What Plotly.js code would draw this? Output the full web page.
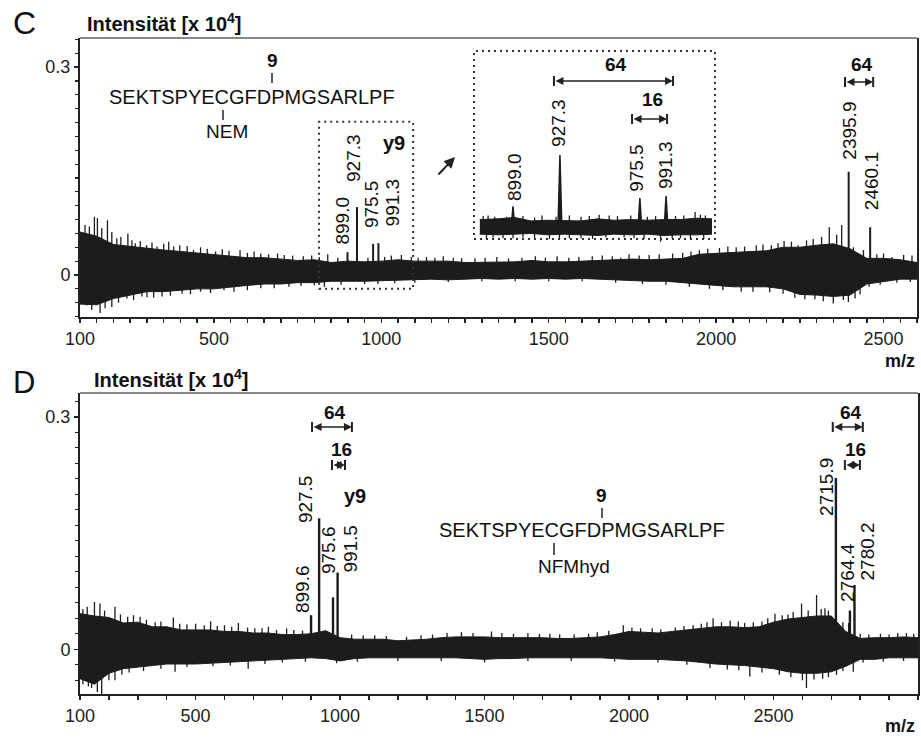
<!DOCTYPE html>
<html><head><meta charset="utf-8">
<script src="https://cdn.plot.ly/plotly-3.0.1.min.js"></script>
<style>html,body{margin:0;padding:0;background:#fff;}#chart{width:921px;height:738px;}</style>
</head><body><div id="chart"></div>
<script>
// ================= DATA =================
// Panel C: noise envelope (m/z, upper, lower) in Intensität [x 10^4]
const envMzC = [100,150,200,250,300,350,400,450,500,550,600,650,700,750,800,850,900,950,1000,1050,1100,1150,1200,1250,1300,1350,1400,1450,1500,1550,1600,1650,1700,1750,1800,1850,1900,1950,2000,2050,2100,2150,2200,2250,2300,2350,2400,2450,2500,2550,2600];
const envUpC = [0.062,0.056,0.044,0.041,0.039,0.036,0.034,0.032,0.029,0.027,0.025,0.025,0.023,0.021,0.022,0.018,0.020,0.019,0.020,0.022,0.020,0.020,0.020,0.018,0.018,0.019,0.019,0.021,0.019,0.019,0.020,0.022,0.022,0.023,0.022,0.023,0.024,0.030,0.031,0.033,0.033,0.035,0.040,0.040,0.043,0.045,0.038,0.024,0.024,0.022,0.018];
const envLoC = [-0.042,-0.043,-0.034,-0.029,-0.024,-0.024,-0.022,-0.020,-0.020,-0.017,-0.015,-0.013,-0.013,-0.011,-0.011,-0.009,-0.009,-0.009,-0.009,-0.007,-0.007,-0.006,-0.007,-0.006,-0.005,-0.006,-0.005,-0.006,-0.005,-0.006,-0.005,-0.005,-0.007,-0.008,-0.009,-0.009,-0.011,-0.013,-0.015,-0.017,-0.017,-0.017,-0.020,-0.028,-0.029,-0.031,-0.029,-0.013,-0.009,-0.006,-0.006];
const spikeUpMzC = [143,152,182,210,243,265,299,330,380,439,505,578,663,767,792,1030,1135,1185,1460,1525,1715,1950,2035,2120,2203,2245,2338,2375,2440,2525,
  115,128,165,195,222,255,280,315,350,365,398,420,460,480,525,545,600,620,640,690,710,735,815,840,870,960,1010,1060,1090,1110,1160,1215,1240,1280,1310,1345,1380,1420,1490,1560,1590,1630,1660,1690,1740,1770,1800,1830,1870,1900,1925,1975,2010,2060,2085,2140,2165,2185,2225,2270,2290,2315,2360,2410,2480,2500,2560,2585];
const spikeUpC   = [0.084,0.082,0.079,0.053,0.060,0.046,0.043,0.041,0.041,0.036,0.034,0.036,0.030,0.027,0.028,0.028,0.026,0.027,0.027,0.027,0.025,0.036,0.041,0.043,0.049,0.043,0.069,0.072,0.036,0.026,
  0.072,0.070,0.068,0.062,0.055,0.050,0.049,0.047,0.045,0.048,0.043,0.042,0.040,0.038,0.037,0.035,0.032,0.034,0.031,0.031,0.029,0.028,0.026,0.030,0.025,0.025,0.026,0.029,0.026,0.025,0.025,0.025,0.024,0.024,0.025,0.026,0.024,0.025,0.025,0.025,0.026,0.027,0.028,0.027,0.030,0.028,0.029,0.030,0.031,0.032,0.034,0.038,0.039,0.040,0.041,0.044,0.043,0.046,0.048,0.050,0.052,0.055,0.058,0.040,0.030,0.031,0.029,0.028];
const spikeDnMzC = [120,160,195,240,285,345,405,460,530,724,830,990,2075,2265,2295,2350,2395,2415,2457,
  105,135,175,215,260,300,320,370,430,490,560,600,640,680,760,800,880,950,1040,1100,1200,1300,1400,1500,1600,1700,1780,1850,1920,1980,2020,2110,2160,2200,2235,2320,2380,2430,2490,2540,2580];
const spikeDnC   = [-0.044,-0.055,-0.046,-0.034,-0.031,-0.031,-0.027,-0.024,-0.022,-0.017,-0.017,-0.013,-0.024,-0.035,-0.035,-0.041,-0.039,-0.034,-0.017,
  -0.040,-0.050,-0.048,-0.040,-0.036,-0.032,-0.033,-0.030,-0.028,-0.026,-0.024,-0.022,-0.019,-0.019,-0.016,-0.015,-0.014,-0.013,-0.012,-0.011,-0.010,-0.009,-0.009,-0.009,-0.009,-0.011,-0.013,-0.014,-0.017,-0.020,-0.022,-0.024,-0.025,-0.027,-0.033,-0.038,-0.036,-0.028,-0.014,-0.011,-0.010];
const peakMzC  = [899.0,927.3,975.5,991.3,2395.9,2460.1];
const peakIntC = [0.033,0.098,0.045,0.046,0.149,0.069];
const peakLabC = ['899.0','927.3','975.5','991.3','2395.9','2460.1'];
const zoomBoxMzC  = [814,1095];
const zoomBoxIntC = [-0.020,0.221];

// Panel C inset (zoom of m/z 879-1019)
const insetMz = [879,890,900,910,920,930,940,950,960,970,980,990,1000,1010,1019];
const insetUp = [0.015,0.016,0.018,0.013,0.014,0.014,0.013,0.016,0.014,0.015,0.014,0.015,0.015,0.017,0.016];
const insetLo = [-0.006,-0.007,-0.006,-0.005,-0.007,-0.006,-0.007,-0.008,-0.006,-0.007,-0.006,-0.008,-0.007,-0.007,-0.006];
const insetSpikeUpMz = [884,888,916.5,933,951,957,1008.8,1015,881,895,905,912,925,940,945,962,970,980,985,997,1002,1012];
const insetSpikeUp   = [0.021,0.019,0.021,0.021,0.022,0.021,0.026,0.021,0.020,0.019,0.020,0.018,0.019,0.019,0.020,0.020,0.021,0.019,0.020,0.020,0.021,0.022];
const insetSpikeDnMz = [883,899,921,933,966,988,1006,887,893,905,912,927,940,947,955,972,978,995,1000,1014];
const insetSpikeDn   = [-0.012,-0.012,-0.013,-0.012,-0.011,-0.017,-0.013,-0.011,-0.012,-0.011,-0.012,-0.013,-0.012,-0.013,-0.011,-0.012,-0.013,-0.012,-0.012,-0.013];
const insetPeakMz  = [899.0,927.3,975.5,991.3];
const insetPeakInt = [0.034,0.108,0.046,0.049];
const insetPeakLab = ['899.0','927.3','975.5','991.3'];

// Panel D
const envMzD = [100,150,200,250,300,350,400,450,500,550,600,650,700,750,800,850,900,950,1000,1050,1100,1150,1200,1250,1300,1350,1400,1450,1500,1550,1600,1650,1700,1750,1800,1850,1900,1950,2000,2050,2100,2150,2200,2250,2300,2350,2400,2450,2500,2550,2600,2650,2700,2750,2800,2850,2900,2950,3000];
const envUpD = [0.046,0.043,0.041,0.034,0.035,0.029,0.029,0.025,0.025,0.025,0.023,0.023,0.021,0.021,0.019,0.019,0.020,0.024,0.015,0.013,0.013,0.013,0.011,0.012,0.013,0.015,0.016,0.016,0.016,0.015,0.015,0.015,0.015,0.014,0.014,0.015,0.016,0.019,0.023,0.022,0.021,0.023,0.025,0.027,0.029,0.029,0.028,0.029,0.035,0.039,0.041,0.043,0.043,0.023,0.014,0.015,0.015,0.016,0.015];
const envLoD = [-0.038,-0.045,-0.031,-0.025,-0.023,-0.021,-0.019,-0.019,-0.019,-0.018,-0.017,-0.016,-0.015,-0.014,-0.013,-0.012,-0.011,-0.012,-0.015,-0.012,-0.011,-0.011,-0.011,-0.011,-0.011,-0.011,-0.011,-0.012,-0.013,-0.012,-0.012,-0.011,-0.011,-0.011,-0.011,-0.011,-0.011,-0.012,-0.013,-0.013,-0.013,-0.014,-0.015,-0.017,-0.019,-0.020,-0.021,-0.023,-0.025,-0.029,-0.031,-0.031,-0.029,-0.022,-0.013,-0.013,-0.011,-0.011,-0.011];
const spikeUpMzD = [150,169,221,308,423,552,648,752,815,1524,1726,1980,2222,2291,2378,2505,2568,2597,2649,2678,
  110,125,185,240,265,285,330,360,380,445,470,500,530,575,600,625,680,705,730,780,840,870,1040,1080,1120,1160,1230,1280,1320,1370,1420,1460,1560,1600,1650,1690,1760,1810,1860,1890,1930,2010,2040,2080,2110,2160,2190,2250,2270,2320,2350,2400,2430,2460,2480,2530,2550,2620,2665,2690,2740,2760,2800,2830,2870,2900,2930,2960,2985];
const spikeUpD   = [0.061,0.059,0.055,0.042,0.041,0.036,0.034,0.029,0.027,0.023,0.020,0.031,0.031,0.040,0.036,0.046,0.048,0.059,0.070,0.053,
  0.052,0.055,0.050,0.045,0.042,0.044,0.038,0.035,0.036,0.033,0.032,0.033,0.031,0.030,0.031,0.029,0.028,0.027,0.027,0.025,0.025,0.024,0.019,0.018,0.018,0.017,0.016,0.018,0.019,0.021,0.022,0.021,0.021,0.020,0.021,0.020,0.019,0.019,0.020,0.022,0.024,0.028,0.027,0.027,0.026,0.028,0.030,0.033,0.035,0.035,0.037,0.034,0.035,0.036,0.040,0.044,0.045,0.050,0.052,0.050,0.035,0.034,0.020,0.019,0.020,0.019,0.021,0.021,0.020];
const spikeDnMzD = [129,175,221,429,682,988,2418,2614,2718,2776,
  110,140,160,200,245,270,320,380,470,560,620,740,800,880,1060,1200,1350,1500,1650,1800,1950,2100,2200,2280,2340,2380,2460,2520,2560,2600,2640,2670,2690,2740,2810,2880,2950];
const spikeDnD   = [-0.048,-0.059,-0.040,-0.029,-0.025,-0.018,-0.035,-0.050,-0.033,-0.029,
  -0.045,-0.050,-0.055,-0.040,-0.033,-0.030,-0.028,-0.025,-0.023,-0.022,-0.021,-0.019,-0.017,-0.016,-0.016,-0.015,-0.015,-0.017,-0.015,-0.015,-0.016,-0.017,-0.020,-0.024,-0.026,-0.027,-0.030,-0.033,-0.036,-0.040,-0.039,-0.038,-0.036,-0.028,-0.017,-0.016,-0.015];
const peakMzD  = [899.6,927.5,975.6,991.5,2715.9,2764.4,2780.2];
const peakIntD = [0.044,0.169,0.067,0.099,0.221,0.050,0.083];
const peakLabD = ['899.6','927.5','975.6','991.5','2715.9','2764.4','2780.2'];

// mass-difference brackets
const brC_from = [2385], brC_to = [2469], brC_lab = ['64'];
const brI_from = [923.7,970.8], brI_to = [995.5,991.9], brI_lab = ['64','16'];
const brD_from = [903,972,2705,2747], brD_to = [1041,1017,2809,2799], brD_lab = ['64','16','64','16'];

// axis ticks
const tickValsC = [100,500,1000,1500,2000,2500];
const tickValsD = [100,500,1000,1500,2000,2500];
const tickValsY = [0,0.3];
const tickTextY = ['0','0.3'];
const sequence = 'SEKTSPYECGFDPMGSARLPF';

// ================= DRAWING =================
const F = 'Liberation Sans, Arial, Helvetica, sans-serif';
const W = 921, H = 738;
const px = v => v / W, py = v => 1 - v / H;
const INK = '#1c1c1c';

function band(mz, up, lo, xa, ya) {
  return {x: mz.concat(mz.slice().reverse()), y: up.concat(lo.slice().reverse()),
    xaxis: xa, yaxis: ya, mode: 'lines', fill: 'toself', fillcolor: INK,
    line: {color: INK, width: 1}, hoverinfo: 'skip'};
}
function sticks(mz, val, xa, ya, w) {
  const x = [], y = [];
  mz.forEach((m, i) => { x.push(m, m, null); y.push(0, val[i], null); });
  return {x, y, xaxis: xa, yaxis: ya, mode: 'lines', line: {color: INK, width: w}, hoverinfo: 'skip'};
}
function tri(mz, val, xa, ya, hw, w) {
  const x = [], y = [];
  mz.forEach((m, i) => { x.push(m - hw, m, m + hw, null); y.push(0, val[i], 0, null); });
  return {x, y, xaxis: xa, yaxis: ya, mode: 'lines', fill: 'toself', fillcolor: INK, line: {color: INK, width: w}, hoverinfo: 'skip'};
}

const traces = [
  band(envMzC, envUpC, envLoC, 'x', 'y'),
  sticks(spikeUpMzC, spikeUpC, 'x', 'y', 1.3),
  sticks(spikeDnMzC, spikeDnC, 'x', 'y', 1.3),
  sticks(peakMzC, peakIntC, 'x', 'y', 2),
  band(insetMz, insetUp, insetLo, 'x3', 'y3'),
  sticks(insetSpikeUpMz, insetSpikeUp, 'x3', 'y3', 1.3),
  sticks(insetSpikeDnMz, insetSpikeDn, 'x3', 'y3', 1.3),
  tri(insetPeakMz, insetPeakInt, 'x3', 'y3', 1.2, 1.5),
  band(envMzD, envUpD, envLoD, 'x2', 'y2'),
  sticks(spikeUpMzD, spikeUpD, 'x2', 'y2', 1.3),
  sticks(spikeDnMzD, spikeDnD, 'x2', 'y2', 1.3),
  sticks(peakMzD, peakIntD, 'x2', 'y2', 2.4)
];

const tickFont = {family: F, size: 18, color: '#222'};
function xAx(dom, rng, anchor, vals, minorDt) {
  return {domain: dom, range: rng, anchor, showline: true, linecolor: '#222', linewidth: 2,
    ticks: 'outside', ticklen: 4, tickwidth: 1.5, tickcolor: '#222',
    tickvals: vals, ticktext: vals.map(String), tickfont: tickFont,
    minor: {dtick: minorDt, tick0: 100, ticks: 'outside', ticklen: 4, tickwidth: 1.5, tickcolor: '#222'},
    showgrid: false, zeroline: false, fixedrange: true};
}
function yAx(dom, rng, anchor) {
  return {domain: dom, range: rng, anchor, showline: true, mirror: true, linecolor: '#222', linewidth: 2,
    ticks: 'outside', ticklen: 4, tickwidth: 1.5, tickcolor: '#222',
    tickvals: tickValsY, ticktext: tickTextY, tickfont: tickFont,
    minor: {dtick: 0.02, tick0: 0, ticks: 'outside', ticklen: 3, tickwidth: 1.2, tickcolor: '#222'},
    showgrid: false, zeroline: false, fixedrange: true};
}

const ann = [];
const shapes = [];
function txt(t, x, y, size, extra) {
  ann.push(Object.assign({text: t, x: px(x), y: py(y), xref: 'paper', yref: 'paper', showarrow: false,
    xanchor: 'center', yanchor: 'middle', font: {family: F, size, color: '#111'}}, extra || {}));
}
function vline(x, y0, y1) {
  shapes.push({type: 'line', xref: 'paper', yref: 'paper', x0: px(x), x1: px(x), y0: py(y0), y1: py(y1), line: {color: '#222', width: 1.5}});
}

// panel letters, axis titles
txt('C', 24, 23, 32);
txt('D', 24, 382, 31);
txt('<b>Intensität [x 10<sup>4</sup>]</b>', 85, 22, 20, {xanchor: 'left'});
txt('<b>Intensität [x 10<sup>4</sup>]</b>', 92, 378, 20, {xanchor: 'left'});
txt('<b>m/z</b>', 917, 361, 18, {xanchor: 'right'});
txt('<b>m/z</b>', 917, 726, 18, {xanchor: 'right'});

// sequences
txt(sequence, 252, 97, 20);
txt('<b>9</b>', 272, 60, 19); vline(272, 73, 83);
vline(223, 110, 120); txt('NEM', 227, 132, 19);
txt(sequence, 582, 530, 20);
txt('<b>9</b>', 601, 495, 19); vline(602, 508, 518);
vline(554, 543, 555); txt('NFMhyd', 574, 566, 19);
txt('<b>y9</b>', 394, 143, 20);
txt('<b>y9</b>', 355, 496, 20);

// peak labels (rotated), offsets are layout only
const labPosC = [[-6,221],[-3,158],[-1,204],[14,202],[0,131],[2,181]];
const labPosI = [[1,177],[-1,123],[-4,168],[-1,165]];
const labPosD = [[-9,589],[-13,499],[-5,550],[12,549],[-10,487],[-3,572],[13,551]];
function peakLabels(mz, lab, pos, xref) {
  mz.forEach((m, i) => ann.push({text: lab[i], x: m, xref, y: py(pos[i][1]), yref: 'paper', xshift: pos[i][0],
    textangle: -90, showarrow: false, xanchor: 'center', yanchor: 'middle', font: {family: F, size: 19, color: '#111'}}));
}
peakLabels(peakMzC, peakLabC, labPosC, 'x');
peakLabels(insetPeakMz, insetPeakLab, labPosI, 'x3');
peakLabels(peakMzD, peakLabD, labPosD, 'x2');

// brackets
function brackets(from, to, lab, xref, yb, yl) {
  from.forEach((f, i) => {
    const t = to[i];
    ann.push({text: '', x: t, y: py(yb[i]), xref, yref: 'paper', ax: f, axref: xref, ay: 0, ayref: 'pixel',
      showarrow: true, arrowside: 'end+start', arrowhead: 2, startarrowhead: 2, arrowsize: 1, startarrowsize: 1,
      arrowwidth: 1.6, arrowcolor: '#222', standoff: 0, startstandoff: 0});
    [f, t].forEach(v => shapes.push({type: 'line', xref, yref: 'paper', x0: v, x1: v, y0: py(yb[i] - 5), y1: py(yb[i] + 5), line: {color: '#222', width: 2}}));
    ann.push({text: '<b>' + lab[i] + '</b>', x: (f + t) / 2, xref, xshift: 3, y: py(yl[i]), yref: 'paper', showarrow: false,
      xanchor: 'center', yanchor: 'middle', font: {family: F, size: 19, color: '#111'}});
  });
}
brackets(brC_from, brC_to, brC_lab, 'x', [82], [64]);
brackets(brI_from, brI_to, brI_lab, 'x3', [81, 119], [64, 100]);
brackets(brD_from, brD_to, brD_lab, 'x2', [427, 465, 427, 465], [412, 449, 412, 449]);

// arrow pointing to the inset
ann.push({text: '', x: px(455), y: py(157), xref: 'paper', yref: 'paper', ax: -18, ay: 19, axref: 'pixel', ayref: 'pixel',
  showarrow: true, arrowhead: 2, arrowsize: 1.1, arrowwidth: 2, arrowcolor: '#222', standoff: 0});

// dotted boxes
shapes.push({type: 'rect', xref: 'x', yref: 'y', x0: zoomBoxMzC[0], x1: zoomBoxMzC[1], y0: zoomBoxIntC[0], y1: zoomBoxIntC[1],
  line: {color: '#333', width: 2, dash: '2px,4px'}});
shapes.push({type: 'rect', xref: 'paper', yref: 'paper', x0: px(474), x1: px(715), y0: py(239), y1: py(51),
  line: {color: '#333', width: 2, dash: '2px,4px'}});
// gray top borders
shapes.push({type: 'line', xref: 'paper', yref: 'paper', x0: px(80), x1: px(917), y0: py(38), y1: py(38), line: {color: '#888', width: 2}});
shapes.push({type: 'line', xref: 'paper', yref: 'paper', x0: px(80), x1: px(918), y0: py(393), y1: py(393), line: {color: '#888', width: 2}});

const layout = {
  width: W, height: H, margin: {l: 0, r: 0, t: 0, b: 0}, paper_bgcolor: '#fff', plot_bgcolor: 'rgba(0,0,0,0)',
  showlegend: false, font: {family: F},
  xaxis: xAx([px(80), px(917)], [100, 2600], 'y', tickValsC, 50),
  yaxis: yAx([py(317), py(38)], [-0.0606, 0.342], 'x'),
  xaxis2: xAx([px(80), px(918)], [100, 3000], 'y2', tickValsD, 100),
  yaxis2: yAx([py(694), py(393)], [-0.0577, 0.3307], 'x2'),
  xaxis3: {domain: [px(479), px(712)], range: [878.5, 1019], anchor: 'y3', visible: false, fixedrange: true},
  yaxis3: {domain: [py(248), py(51)], range: [-0.026, 0.258], anchor: 'x3', visible: false, fixedrange: true},
  annotations: ann, shapes: shapes
};
Plotly.newPlot('chart', traces, layout, {displayModeBar: false, staticPlot: true});
</script>
</body></html>
